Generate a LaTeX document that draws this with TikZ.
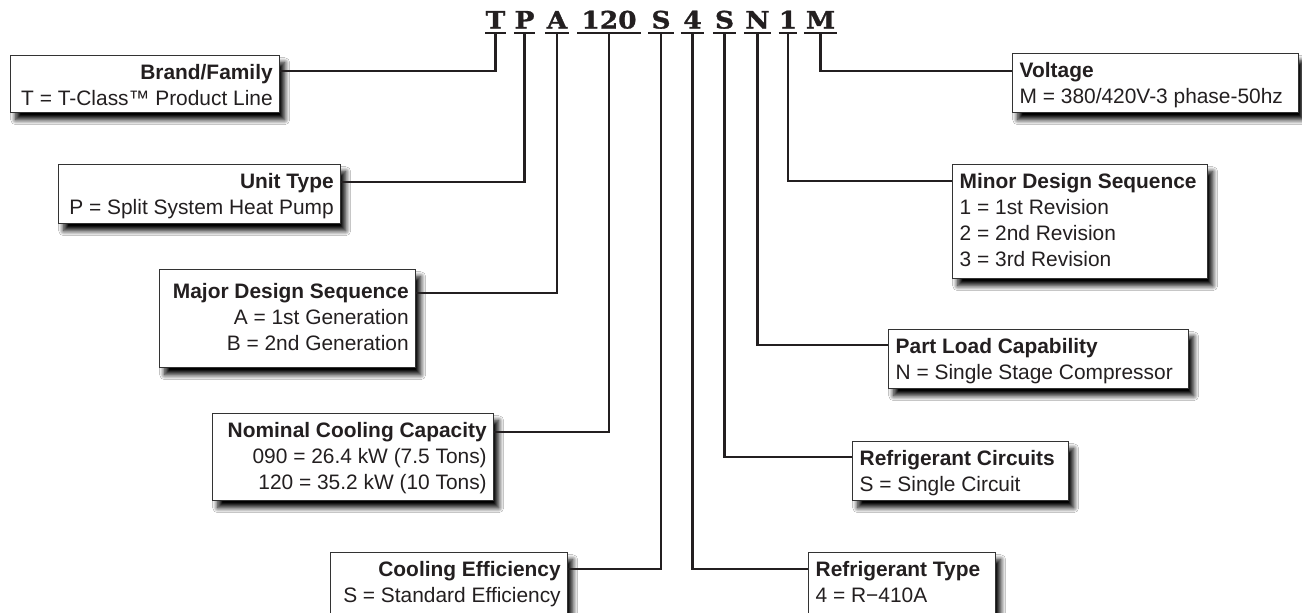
\documentclass[tikz,border=0pt]{standalone}
\usepackage{fontspec}
\setmainfont{Liberation Sans}
\newfontfamily\codefont{DejaVu Serif}[FakeStretch=1.1,FakeBold=1.2]
\usetikzlibrary{shadows.blur}
\definecolor{ink}{HTML}{231F20}
\definecolor{boxline}{HTML}{333333}
\newcommand\bx[5]{\parbox[t][#1pt][t]{#2pt}{\fontsize{20.9}{26}\selectfont#3\rule{0pt}{#4pt}#5}}
\tikzset{
  conn/.style={draw=ink, line width=2.2pt, line join=miter},
  info/.style={draw=boxline, line width=1.4pt, fill=white, anchor=north west,
    inner xsep=7pt, inner ysep=0pt, text=ink,
    blur shadow={shadow xshift=5pt, shadow yshift=-7pt, shadow blur radius=5pt, shadow blur steps=10, shadow opacity=100}},
  code/.style={anchor=base, inner sep=0pt, text depth=4.5pt, text=ink,
    font=\codefont\bfseries\fontsize{24}{24}\selectfont}
}
\begin{document}
\begin{tikzpicture}[x=1pt, y=-1pt]
\useasboundingbox (0,0) rectangle (1302,613);
\fill[white] (0,0) rectangle (1302,613);
\clip (0,0) rectangle (1302,613);

% code letters
\node[code, minimum width=19pt] (L1) at (495.5,28.5) {T};
\node[code, minimum width=21pt] (L2) at (524.5,28.5) {P};
\node[code, minimum width=24pt] (L3) at (557,28.5) {A};
\node[code, minimum width=63pt] (L4) at (609,28.5) {120};
\node[code, minimum width=25pt] (L5) at (661,28.5) {S};
\node[code, minimum width=23pt] (L6) at (692.5,28.5) {4};
\node[code, minimum width=23pt] (L7) at (724.5,28.5) {S};
\node[code, minimum width=27pt] (L8) at (757.5,28.5) {N};
\node[code, minimum width=14pt] (L9) at (788,28.5) {1};
\node[code, minimum width=33pt] (L10) at (820.5,28.5) {M};
\foreach \n in {L1,L2,L3,L4,L5,L6,L7,L8,L9,L10}
  \draw[conn] (\n.south west) -- (\n.south east);

% boxes (left side, right aligned)
\node[info] (brand) at (10,55) {\bx{57}{255}{\raggedleft}{24}{\textbf{Brand/Family}\\T = T-Class™ Product Line}};
\node[info] (unit) at (58,164) {\bx{59}{268}{\raggedleft}{24}{\textbf{Unit Type}\\P = Split System Heat Pump}};
\node[info] (major) at (159,269) {\bx{98}{242}{\raggedleft}{29}{\textbf{Major Design Sequence}\\A = 1st Generation\\B = 2nd Generation}};
\node[info] (nominal) at (212,413) {\bx{87}{267}{\raggedleft}{24}{\textbf{Nominal Cooling Capacity}\\090 = 26.4 kW (7.5 Tons)\\120 = 35.2 kW (10 Tons)}};
\node[info] (cooling) at (330,552) {\bx{73}{223}{\raggedleft}{24}{\textbf{Cooling Efficiency}\\S = Standard Efficiency}};

% boxes (right side, left aligned)
\node[info] (rtype) at (808,552) {\bx{73}{173}{\raggedright}{24}{\textbf{Refrigerant Type}\\4 = R−410A}};
\node[info] (circ) at (852,441) {\bx{59}{202}{\raggedright}{24}{\textbf{Refrigerant Circuits}\\S = Single Circuit}};
\node[info] (part) at (888,329) {\bx{59}{286}{\raggedright}{24}{\textbf{Part Load Capability}\\N = Single Stage Compressor}};
\node[info] (minor) at (952,164) {\bx{114}{241}{\raggedright}{24}{\textbf{Minor Design Sequence}\\1 = 1st Revision\\2 = 2nd Revision\\3 = 3rd Revision}};
\node[info] (volt) at (1012,53) {\bx{59}{272}{\raggedright}{24}{\textbf{Voltage}\\M = 380/420V-3 phase-50hz}};

% connectors
\draw[conn] ([yshift=-16pt]brand.north east) -| (L1.south);
\draw[conn] ([yshift=-18pt]unit.north east) -| (L2.south);
\draw[conn] ([yshift=-24pt]major.north east) -| (L3.south);
\draw[conn] ([yshift=-19pt]nominal.north east) -| (L4.south);
\draw[conn] ([yshift=-17pt]cooling.north east) -| (L5.south);
\draw[conn] (L6.south) |- ([yshift=-17pt]rtype.north west);
\draw[conn] (L7.south) |- ([yshift=-16pt]circ.north west);
\draw[conn] (L8.south) |- ([yshift=-16pt]part.north west);
\draw[conn] (L9.south) |- ([yshift=-17pt]minor.north west);
\draw[conn] (L10.south) |- ([yshift=-18pt]volt.north west);
\end{tikzpicture}
\end{document}
